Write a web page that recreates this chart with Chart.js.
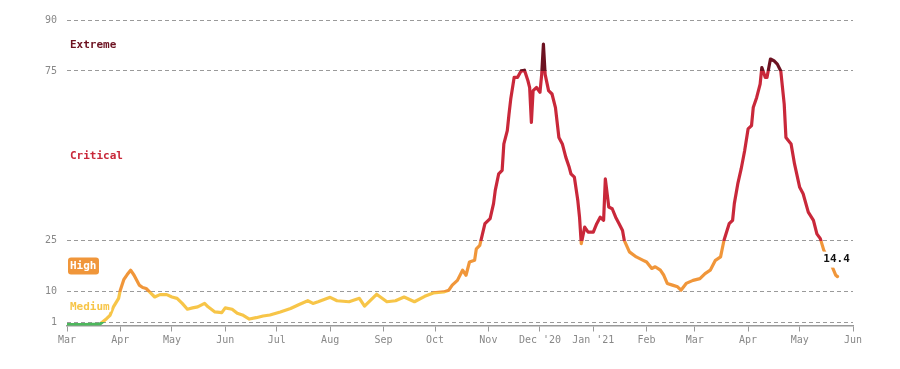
<!DOCTYPE html>
<html><head><meta charset="utf-8">
<script src="https://cdn.jsdelivr.net/npm/chart.js@4.4.0/dist/chart.umd.min.js"></script>
<style>html,body{margin:0;padding:0;background:#fff;}#wrap{width:900px;height:369px;position:relative;}</style>
</head><body><div id="wrap"><canvas id="c" width="900" height="369"></canvas></div>
<script>
// Data: days since 2020-03-01, daily risk value
const startDate = "2020-03-01";
const daysSinceStart = [0,10,19,21,23,25,27,30,31,33,35,37,39,42,44,46,48,51,54,58,61,64,67,70,73,76,80,82,86,90,92,96,99,102,106,110,114,118,124,130,135,140,143,146,153,157,164,170,173,180,186,191,196,202,208,213,219,222,224,227,230,232,234,237,238,240,243,246,248,249,251,253,254,256,257,258,260,262,264,266,268,269,270,271,273,275,276,277,278,280,282,284,286,288,290,292,293,295,297,298,299,301,303,306,308,310,312,313,315,317,319,321,323,324,327,331,335,337,340,342,345,347,349,352,355,357,360,364,368,371,374,377,380,382,385,387,388,390,392,394,396,398,399,401,403,404,406,407,409,411,413,415,417,418,421,423,426,428,431,434,436,438,440,445,447,448];
const values = [0.3,0.3,0.4,1.2,2.0,3.0,5.5,8.0,10.4,13.5,15.0,16.3,14.8,11.9,11.2,10.9,9.9,8.4,9.1,9.1,8.4,8.0,6.5,4.8,5.2,5.5,6.5,5.5,4.0,3.8,5.2,4.8,3.6,3.1,1.9,2.3,2.8,3.1,4.0,5.0,6.2,7.3,6.5,7.0,8.3,7.3,7.0,8.0,5.7,9.2,7.0,7.3,8.4,7.0,8.6,9.6,9.9,10.4,11.9,13.3,16.3,14.8,18.7,19.2,22.6,23.6,30,31.5,35.9,39.8,44.7,45.7,53.5,57.4,62.3,66.7,73.1,73.1,75,75.2,72.1,70.1,59.8,69.2,70.1,68.7,74,82.9,74,69.2,68.2,64.2,55.4,53.5,49.6,46.6,44.7,43.7,36.8,31.9,24.1,29,27.5,27.5,30,31.9,31,43.2,34.9,34.4,31.9,30,28,25.1,21.7,20.2,19.2,18.7,16.8,17.3,16.3,14.8,12.4,11.9,11.4,10.4,12.4,13.3,13.8,15.3,16.3,19.2,20.2,25.1,30,31,35.9,41.7,46.2,51.5,57.9,58.9,64.2,67.2,71.1,76,73.1,73.1,78.5,78,77,75,65.2,55.4,53.5,47.6,40.7,38.8,33.4,31,27,25.6,22.2,17.2,14.8,14.4];
const lastValueLabel = "14.4";

const yTickValues = [1,10,25,75,90];
const monthTickDays = [0,31,61,92,122,153,184,214,245,275,306,337,365,396,426,457];
const monthTickLabels = ["Mar","Apr","May","Jun","Jul","Aug","Sep","Oct","Nov","Dec '20","Jan '21","Feb","Mar","Apr","May","Jun"];

const zoneNames = ["Medium","High","Critical","Extreme"];
const zoneLow = [1,10,25,75];
const zoneHigh = [10,25,75,90];
const zoneColors = ["#f7c548","#f0963a","#c9283a","#6d1221"];
const belowColor = "#4cb85c";

const MONO = '"DejaVu Sans Mono", monospace';

function lineGradient(chart) {
  const {ctx, chartArea, scales} = chart;
  if (!chartArea) return zoneColors[0];
  const y = scales.y;
  const y0 = y.getPixelForValue(y.min), y1 = y.getPixelForValue(y.max);
  const g = ctx.createLinearGradient(0, y0, 0, y1);
  const span = y.max - y.min;
  const cols = [belowColor].concat(zoneColors);
  g.addColorStop(0, cols[0]);
  zoneLow.forEach((t, i) => {
    const o = (t - y.min) / span;
    g.addColorStop(o, cols[i]);
    g.addColorStop(o, cols[i + 1]);
  });
  g.addColorStop(1, cols[cols.length - 1]);
  return g;
}

const labelsPlugin = {
  id: 'zoneLabels',
  afterDatasetsDraw(chart) {
    const {ctx, chartArea, scales: {y}} = chart;
    ctx.save();
    ctx.font = 'bold 11px ' + MONO;
    ctx.textBaseline = 'middle';
    ctx.textAlign = 'left';
    zoneNames.forEach((name, i) => {
      const py = y.getPixelForValue((zoneLow[i] + zoneHigh[i]) / 2);
      const px = chartArea.left + 3;
      if (name === "High") {
        const w = ctx.measureText(name).width;
        ctx.fillStyle = zoneColors[i];
        ctx.beginPath();
        ctx.roundRect(px - 2, py - 8.5, w + 4.5, 17, 3);
        ctx.fill();
        ctx.fillStyle = '#fff';
        ctx.fillText(name, px, py + 0.5);
      } else {
        ctx.lineWidth = 4;
        ctx.strokeStyle = '#fff';
        ctx.lineJoin = 'round';
        ctx.strokeText(name, px, py);
        ctx.fillStyle = zoneColors[i];
        ctx.fillText(name, px, py);
      }
    });
    // last value label
    const meta = chart.getDatasetMeta(0);
    const pt = meta.data[meta.data.length - 1];
    if (pt) {
      const lx = pt.x - 1, ly = pt.y - 17;
      const w = ctx.measureText(lastValueLabel).width;
      ctx.fillStyle = '#fff';
      ctx.fillRect(lx - w / 2 - 3, ly - 8, w + 6, 16);
      ctx.fillStyle = '#111';
      ctx.textAlign = 'center';
      ctx.fillText(lastValueLabel, lx, ly);
    }
    ctx.restore();
  }
};

new Chart(document.getElementById('c'), {
  type: 'line',
  data: {
    datasets: [{
      data: daysSinceStart.map((d, i) => ({x: d, y: values[i]})),
      borderColor: (c) => lineGradient(c.chart),
      borderWidth: 3.2,
      pointRadius: 0,
      tension: 0,
      borderJoinStyle: 'round',
      borderCapStyle: 'round',
      fill: false
    }]
  },
  options: {
    responsive: false,
    animation: false,
    devicePixelRatio: 1,
    layout: {padding: {left: 0, right: 47, top: 20, bottom: 0}},
    plugins: {legend: {display: false}, tooltip: {enabled: false}},
    scales: {
      x: {
        type: 'linear',
        min: 0,
        max: monthTickDays[monthTickDays.length - 1],
        afterBuildTicks: (s) => { s.ticks = monthTickDays.map(v => ({value: v})); },
        afterFit: (s) => { s.height = 43.5; },
        ticks: {
          autoSkip: false, maxRotation: 0, padding: 3,
          color: '#888', font: {family: MONO, size: 10},
          callback: (v, i) => monthTickLabels[i]
        },
        grid: {drawOnChartArea: false, drawTicks: true, tickLength: 6, color: '#999', lineWidth: 1},
        border: {display: true, color: '#999', width: 1.5}
      },
      y: {
        type: 'linear',
        min: 0,
        max: 90,
        afterBuildTicks: (s) => { s.ticks = yTickValues.map(v => ({value: v})); },
        afterFit: (s) => { s.width = 67; },
        ticks: {padding: 10, color: '#888', font: {family: MONO, size: 10}},
        grid: {drawTicks: false, color: '#9a9a9a', lineWidth: 1},
        border: {display: false, dash: [4, 3]}
      }
    }
  },
  plugins: [labelsPlugin]
});
</script></body></html>
